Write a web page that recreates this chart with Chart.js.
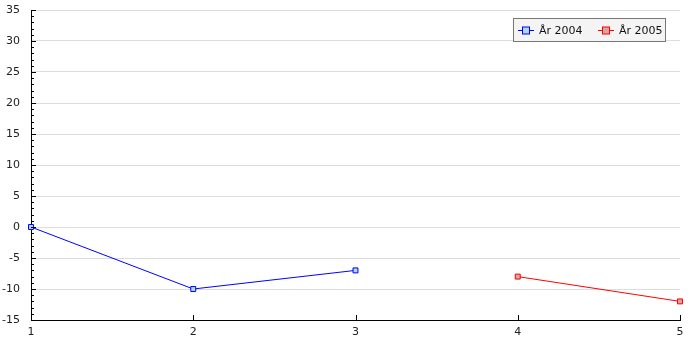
<!DOCTYPE html>
<html>
<head>
<meta charset="utf-8">
<script src="https://cdn.jsdelivr.net/npm/chart.js@4"></script>
<style>
  html, body { margin: 0; padding: 0; background: #fff; }
  #wrap { width: 700px; height: 350px; position: relative; }
</style>
</head>
<body>
<div id="wrap"><canvas id="chart"></canvas></div>
<script>
const categories = ['1', '2', '3', '4', '5'];
const serie2004 = [0, -10, -7, null, null];
const serie2005 = [null, null, null, -8, -12];
const yMin = -15, yMax = 35, yStep = 5;

// ticks drawn inward, like the original plot
const axisTicks = {
  id: 'axisTicks',
  afterDraw(c) {
    const { ctx, chartArea: a, scales: { x, y } } = c;
    ctx.save();
    ctx.strokeStyle = '#000';
    ctx.lineWidth = 1;
    ctx.beginPath();
    for (let v = yMin; v <= yMax; v++) {
      const py = Math.round(y.getPixelForValue(v)) + 0.5;
      const len = v % yStep === 0 ? 5 : 3;
      ctx.moveTo(a.left, py);
      ctx.lineTo(a.left + len, py);
    }
    categories.forEach((_, i) => {
      if (i === 0) return;
      const px = Math.round(x.getPixelForValue(i)) + 0.5;
      ctx.moveTo(px, a.bottom);
      ctx.lineTo(px, a.bottom - 5);
    });
    ctx.stroke();
    ctx.restore();
  }
};

Chart.defaults.font.family = '"DejaVu Sans", sans-serif';
Chart.defaults.font.size = 11;
Chart.defaults.color = '#222';

new Chart(document.getElementById('chart'), {
  type: 'line',
  data: {
    labels: categories,
    datasets: [
      {
        label: 'År 2004',
        data: serie2004,
        borderColor: '#0000ff',
        backgroundColor: '#add8e6',
        borderWidth: 1,
        pointStyle: 'rect',
        pointRadius: 3.5,
        pointBorderWidth: 1,
        spanGaps: false,
        clip: false
      },
      {
        label: 'År 2005',
        data: serie2005,
        borderColor: '#ff0000',
        backgroundColor: '#d8a4a4',
        borderWidth: 1,
        pointStyle: 'rect',
        pointRadius: 3.5,
        pointBorderWidth: 1,
        spanGaps: false,
        clip: false
      }
    ]
  },
  options: {
    responsive: true,
    maintainAspectRatio: false,
    animation: false,
    layout: { padding: { top: 10, right: 20, left: 0, bottom: 0 } },
    plugins: {
      legend: { display: false },
      tooltip: { enabled: false }
    },
    scales: {
      x: {
        offset: false,
        grid: { display: false, drawTicks: false },
        border: { color: '#000', width: 1 },
        ticks: { padding: 6, maxRotation: 0, color: '#222' },
        afterFit: s => { s.height = 30; s.paddingLeft = 0; s.paddingRight = 0; }
      },
      y: {
        min: yMin,
        max: yMax,
        ticks: { stepSize: yStep, padding: 11, color: '#222' },
        grid: { color: '#dddddd', drawTicks: false },
        border: { color: '#000', width: 1 },
        afterFit: s => { s.width = 31; s.paddingTop = 0; s.paddingBottom = 0; }
      }
    }
  },
  plugins: [axisTicks, {
    id: 'boxLegend',
    afterDraw(c) {
      const ctx = c.ctx;
      const x0 = 513.5, y0 = 18.5, w = 152, h = 23;
      ctx.save();
      ctx.fillStyle = '#f4f4f4';
      ctx.strokeStyle = '#777';
      ctx.lineWidth = 1;
      ctx.fillRect(x0, y0, w, h);
      ctx.strokeRect(x0, y0, w, h);
      ctx.font = '11px "DejaVu Sans", sans-serif';
      ctx.textBaseline = 'middle';
      const starts = [518, 598];
      c.data.datasets.forEach((ds, i) => {
        const sx = starts[i], cy = 30.5;
        ctx.strokeStyle = ds.borderColor;
        ctx.beginPath();
        ctx.moveTo(sx, cy);
        ctx.lineTo(sx + 16, cy);
        ctx.stroke();
        ctx.fillStyle = ds.backgroundColor;
        ctx.fillRect(sx + 4.5, cy - 3.5, 7, 7);
        ctx.strokeRect(sx + 4.5, cy - 3.5, 7, 7);
        ctx.fillStyle = '#111';
        ctx.fillText(ds.label, sx + 21, cy + 0.5);
      });
      ctx.restore();
    }
  }]
});
</script>
</body>
</html>
